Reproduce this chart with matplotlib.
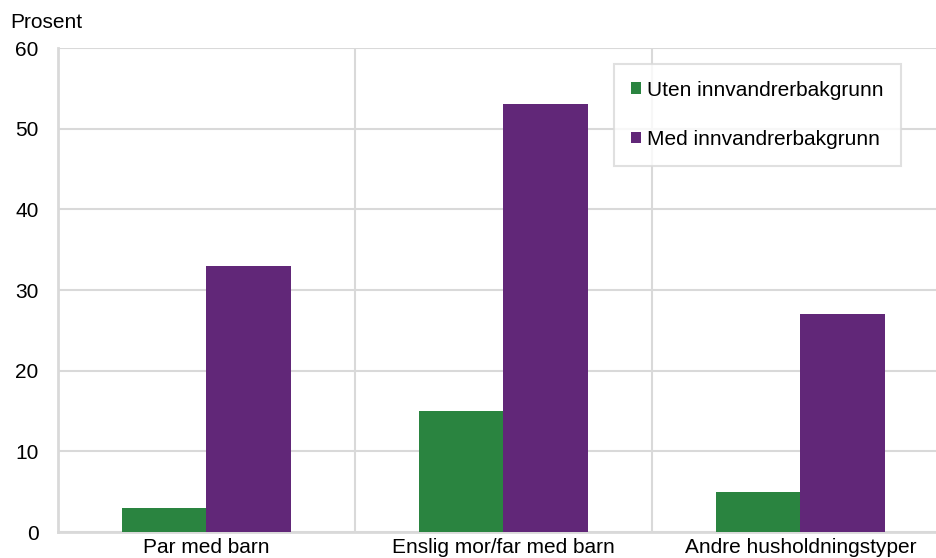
# Husholdninger etter innvandrerbakgrunn

import numpy as np
import matplotlib
matplotlib.use("Agg")
import matplotlib.pyplot as plt

categories = ["Par med barn", "Enslig mor/far med barn", "Andre husholdningstyper"]
series_names = ["Uten innvandrerbakgrunn", "Med innvandrerbakgrunn"]
uten = [3, 15, 5]
med = [33, 53, 27]
y_ticks = [0, 10, 20, 30, 40, 50, 60]

colors = ["#2a8440", "#612778"]
grid_color = "#d9d9d9"

plt.rcParams["font.family"] = ["Liberation Sans", "DejaVu Sans"]

fig = plt.figure(figsize=(9.37, 5.58), dpi=100)
W, H = 937, 558
left, right, top, bottom = 58, 949, 48, 532
ax = fig.add_axes([left / W, 1 - bottom / H, (right - left) / W, (bottom - top) / H])

x = np.arange(len(categories))
bw = 0.283
ax.bar(x - bw / 2, uten, width=bw, color=colors[0], label=series_names[0], zorder=3)
ax.bar(x + bw / 2, med, width=bw, color=colors[1], label=series_names[1], zorder=3)

ax.set_xlim(-0.5, len(categories) - 0.5)
ax.set_ylim(0, 60)
ax.set_yticks(y_ticks)
ax.set_xticks(x)
ax.set_xticklabels(categories)

# horizontal and vertical gridlines
ax.yaxis.grid(True, color=grid_color, linewidth=1.5, zorder=0)
for b in np.arange(0.5, len(categories) - 0.5, 1):
    ax.axvline(b, color=grid_color, linewidth=1.5, zorder=0)

for s in ["top", "right"]:
    ax.spines[s].set_visible(False)
for s in ["left", "bottom"]:
    ax.spines[s].set_color(grid_color)
    ax.spines[s].set_linewidth(2)

ax.tick_params(axis="both", length=0, labelsize=15, colors="black")
ax.tick_params(axis="y", pad=14)
ax.tick_params(axis="x", pad=4)

fig.text(10 / W, 1 - 23 / H, "Prosent", fontsize=15, va="center", ha="left")

leg = ax.legend(loc="upper left", bbox_to_anchor=((614 - left) / (right - left), 1 - (64 - top) / (bottom - top)),
                frameon=True, fancybox=False, fontsize=15, handlelength=0.5, handleheight=0.5,
                handletextpad=0.3, labelspacing=1.45, borderpad=0.8, borderaxespad=0)
leg.get_frame().set_edgecolor(grid_color)
leg.get_frame().set_linewidth(1.5)

fig.savefig("out.png", dpi=100)
